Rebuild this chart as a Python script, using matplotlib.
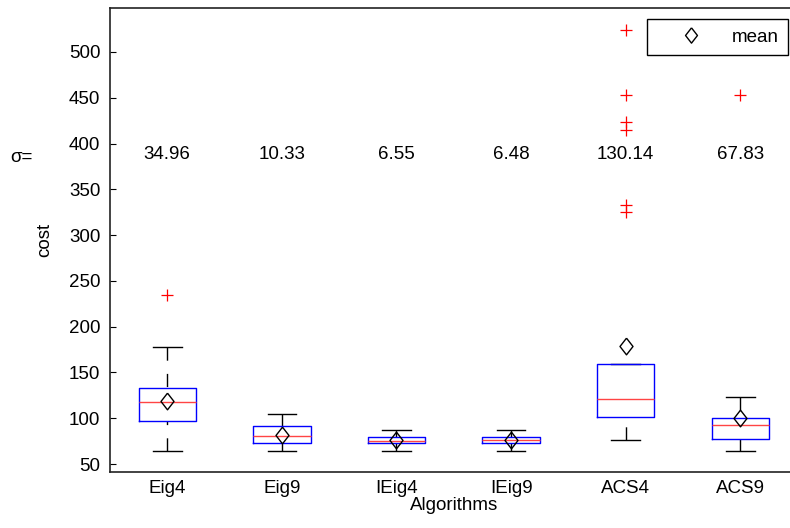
import matplotlib.pyplot as plt
from matplotlib.lines import Line2D

plt.rcParams['font.family'] = ['Liberation Sans', 'DejaVu Sans']

algos = ['Eig4', 'Eig9', 'IEig4', 'IEig9', 'ACS4', 'ACS9']
medians = [117.5, 80.5, 75.5, 76.0, 121.0, 92.5]
q1s = [96.5, 72.5, 72.5, 72.5, 101.5, 77.5]
q3s = [132.5, 92.0, 80.0, 80.0, 159.0, 100.0]
whis_lo = [64.5, 64.5, 64.5, 64.5, 76.0, 64.5]
whis_hi = [177.5, 104.5, 87.5, 87.5, 159.0, 123.5]
means = [119.0, 82.0, 76.2, 76.2, 178.5, 100.8]
fliers = [[234.5], [], [], [], [524.0, 453.0, 424.0, 415.0, 333.0, 325.0], [452.5]]
sigmas = ['34.96', '10.33', '6.55', '6.48', '130.14', '67.83']

diamond = [(0, 1), (0.78, 0), (0, -1), (-0.78, 0), (0, 1)]
fs = 13.5

stats = []
for i in range(len(algos)):
    stats.append(dict(med=medians[i], q1=q1s[i], q3=q3s[i],
                      whislo=whis_lo[i], whishi=whis_hi[i],
                      mean=means[i], fliers=fliers[i], label=algos[i]))

fig = plt.figure(figsize=(7.9, 5.28), dpi=100)
ax = fig.add_axes([0.1392, 0.1066, 0.8704, 0.8774])

pos = list(range(1, len(algos) + 1))
bp = ax.bxp(stats, positions=pos, widths=0.5, capwidths=0.25,
            showmeans=True, showfliers=True,
            boxprops=dict(color='blue', linewidth=1.0, zorder=3),
            medianprops=dict(color='#ff4444', linewidth=1.0, zorder=3),
            whiskerprops=dict(color='black', linewidth=1.0, linestyle=(0, (9.5, 9.5))),
            capprops=dict(color='black', linewidth=1.0, zorder=2),
            flierprops=dict(marker='+', markeredgecolor='red', markersize=8.5,
                            markeredgewidth=0.9, linestyle='none'),
            meanprops=dict(marker=diamond, markerfacecolor='none',
                           markeredgecolor='black', markersize=12,
                           markeredgewidth=1.0, linestyle='none', zorder=4))
# dashes start at the cap, as in the original
for w in bp['whiskers']:
    x, y = w.get_data()
    w.set_data(x[::-1], y[::-1])

ax.set_xlim(0.5, 6.5)
ax.set_ylim(41.6, 547.5)
ax.set_yticks(range(50, 501, 50))
ax.set_xticks(pos)
ax.set_xticklabels(algos)
ax.tick_params(axis='y', direction='in', length=4, labelsize=fs, pad=7)
ax.tick_params(axis='x', length=0, labelsize=fs, pad=6)
for s in ax.spines.values():
    s.set_linewidth(1.2)
    s.set_color('#222222')

ax.set_ylabel('cost', fontsize=fs, labelpad=11)
ax.set_xlabel('Algorithms', fontsize=fs, labelpad=0)

for p, s in zip(pos, sigmas):
    ax.text(p, 388, s, ha='center', va='center', fontsize=fs)
fig.text(21 / 790, 1 - 157 / 528, 'σ=', ha='center', va='center', fontsize=fs)

h = Line2D([], [], marker=diamond, markerfacecolor='none', markeredgecolor='black',
           markersize=11, markeredgewidth=1.0, linestyle='none')
leg = ax.legend([h], ['mean'], loc='upper right',
                bbox_to_anchor=(788 / 790, 1 - 19 / 528),
                bbox_transform=fig.transFigure, fancybox=False, framealpha=1,
                edgecolor='black', fontsize=fs, handlelength=3.7,
                handletextpad=0.3, borderpad=0.5, borderaxespad=0)
leg.get_frame().set_linewidth(1.0)

fig.savefig('out.png', dpi=100)
